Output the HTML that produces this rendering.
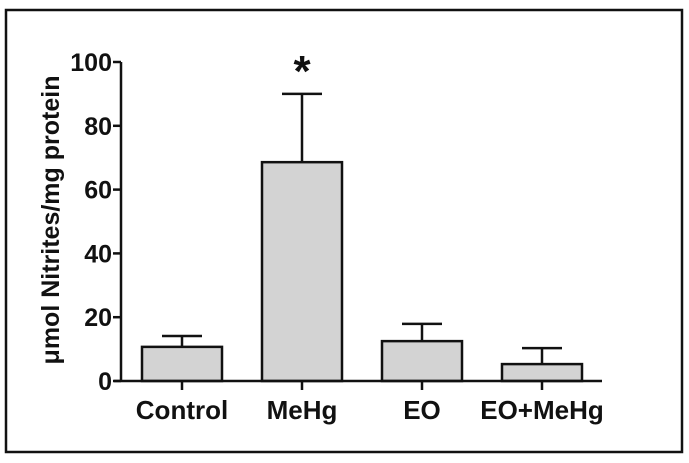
<!DOCTYPE html>
<html><head><meta charset="utf-8"><style>
body{margin:0;background:#fff;}
svg{display:block;font-family:"Liberation Sans",Arial,sans-serif;font-weight:bold;}
</style></head><body>
<svg width="689" height="463" xmlns="http://www.w3.org/2000/svg">
<rect x="6" y="10" width="676" height="442" fill="#fff" stroke="#111" stroke-width="2.5"/>
<g id="plot"></g>
</svg>
<script>
const categories=["Control","MeHg","EO","EO+MeHg"];
const means=[10.7,68.6,12.5,5.3];
const errors=[3.4,21.4,5.4,5.0];
const yTicks=[0,20,40,60,80,100];
const sig=[false,true,false,false];
const NS="http://www.w3.org/2000/svg";
const g=document.getElementById('plot');
const y0=381,y1=62,xAxL=114,xAxR=602,yAxX=121;
function y(v){return y0-(v/100)*(y0-y1);}
function x(i){return 182+i*120;}
function mk(t,a,txt){const e=document.createElementNS(NS,t);for(const k in a)e.setAttribute(k,a[k]);if(txt!==undefined)e.textContent=txt;g.appendChild(e);return e;}
const bw=80;
categories.forEach((c,i)=>{
 const cx=x(i),top=y(means[i]),et=y(means[i]+errors[i]);
 let l=mk('line',{x1:cx,x2:cx,y1:top,y2:et,stroke:'#111','stroke-width':2.5});
 
 
 l=mk('line',{x1:cx-20,x2:cx+20,y1:et,y2:et,stroke:'#111','stroke-width':2.5});
 
 
 const r=mk('rect',{x:cx-bw/2,y:top,width:bw,height:y0-top,fill:'#d3d3d3',stroke:'#111','stroke-width':2.5});
 
 
 const t=mk('line',{x1:cx,x2:cx,y1:y0,y2:y0+9,stroke:'#111','stroke-width':2.5});
 
 
 const lb=mk('text',{x:cx,y:419,'text-anchor':'middle','font-size':26,fill:'#111'},c);
 
 
 if(sig[i]){const s=mk('text',{x:cx,y:y(100)+24,'text-anchor':'middle','font-size':44,fill:'#111'},'*');
  
  }
});
let ax=mk('line',{x1:xAxL,x2:xAxR,y1:y0,y2:y0,stroke:'#111','stroke-width':2.5});


ax=mk('line',{x1:yAxX,x2:yAxX,y1:y1,y2:y0,stroke:'#111','stroke-width':2.5});


yTicks.forEach(v=>{
 const t=mk('line',{x1:yAxX-8,x2:yAxX,y1:y(v),y2:y(v),stroke:'#111','stroke-width':2.5});
 
 
 const l=mk('text',{x:yAxX-9,y:y(v)+9,'text-anchor':'end','font-size':25,fill:'#111'},v);
 
 
});
const ti=mk('text',{x:0,y:0,'text-anchor':'middle','font-size':25,fill:'#111',transform:'translate(59,220) rotate(-90)'},'μmol Nitrites/mg protein');


</script>
</body></html>
